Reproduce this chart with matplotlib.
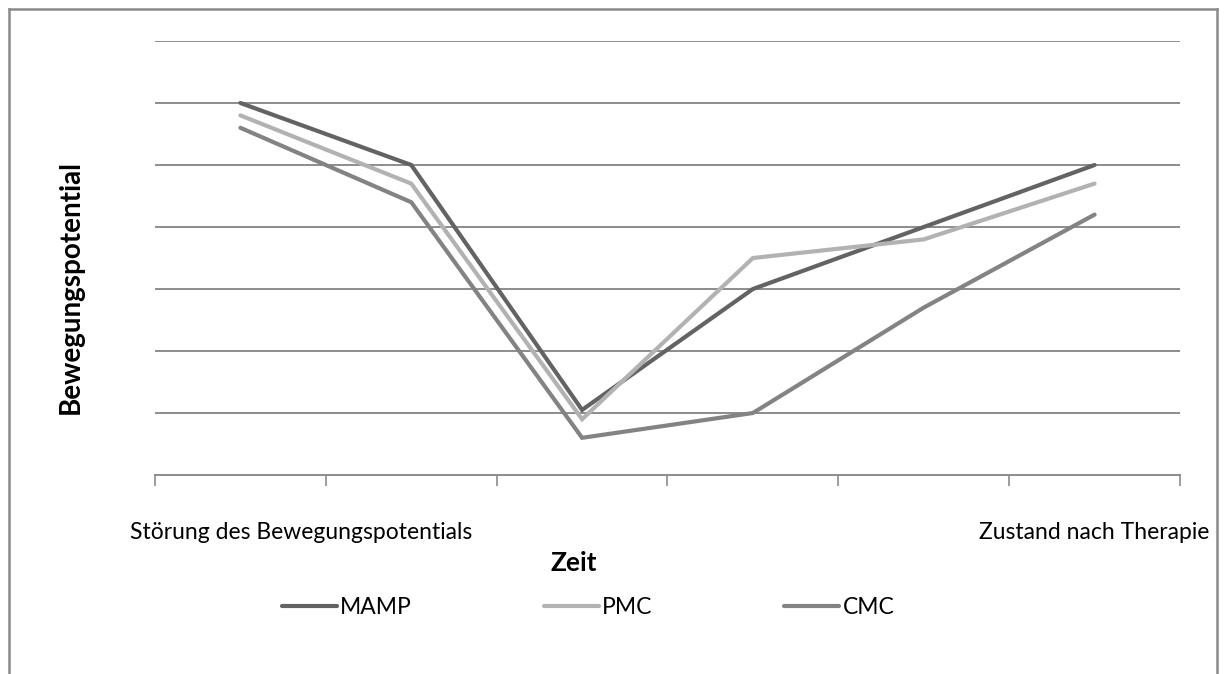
"""Line chart: Bewegungspotential over time for MAMP, PMC and CMC."""

import matplotlib

matplotlib.use("Agg")
import matplotlib.pyplot as plt  # noqa: E402
from matplotlib.lines import Line2D  # noqa: E402
from matplotlib.transforms import ScaledTranslation  # noqa: E402

plt.rcParams["font.family"] = ["Lato", "DejaVu Sans"]

# categories along the time axis; only first and last carry a label
categories = ["Störung des Bewegungspotentials", "", "", "", "", "Zustand nach Therapie"]

mamp = [6.0, 5.0, 1.05, 3.0, 4.0, 5.0]
pmc = [5.8, 4.7, 0.9, 3.5, 3.8, 4.7]
cmc = [5.6, 4.4, 0.6, 1.0, 2.7, 4.2]

series = [("MAMP", mamp, "#636363"), ("PMC", pmc, "#b2b2b2"), ("CMC", cmc, "#838383")]

W, H, DPI = 1227, 674, 100
fig = plt.figure(figsize=(W / DPI, H / DPI), dpi=DPI)

# plot area in pixel terms, converted to figure fractions
left, right, top, bottom = 155, 1180, 41, 475
ax = fig.add_axes([left / W, 1 - bottom / H, (right - left) / W, (bottom - top) / H])

x = list(range(len(categories)))
for name, vals, color in series:
    ax.plot(x, vals, color=color, lw=3.0, label=name, solid_capstyle="round",
            solid_joinstyle="miter", zorder=3)

ax.set_xlim(-0.5, len(categories) - 0.5)
ax.set_ylim(0, 7)
ax.set_yticks(range(1, 8))
ax.tick_params(axis="y", length=0, labelleft=False)
ax.grid(axis="y", color="#8c8c8c", lw=1.4, zorder=1)

ax.set_xticks(x)
ax.set_xticklabels(categories, fontsize=16.5, color="#000000")
ax.tick_params(axis="x", which="major", length=0, pad=34)
ax.set_xticks([i - 0.5 for i in range(len(categories) + 1)], minor=True)
ax.tick_params(axis="x", which="minor", length=8, width=1.2, color="#8c8c8c")

# the first label sits a little right of its category centre
first = ax.get_xticklabels()[0]
first.set_transform(first.get_transform() + ScaledTranslation(0.61, 0, fig.dpi_scale_trans))

for side in ("top", "right", "left"):
    ax.spines[side].set_visible(False)
ax.spines["bottom"].set_color("#8c8c8c")
ax.spines["bottom"].set_linewidth(1.4)

fig.text(574 / W, 1 - 563 / H, "Zeit", fontsize=19, fontweight="bold",
         ha="center", va="center")
fig.text(71 / W, 1 - 287 / H, "Bewegungspotential", fontsize=20,
         fontweight="bold", rotation=90, ha="center", va="center")

fig.legend(loc="center", bbox_to_anchor=(588 / W, 1 - 608 / H), ncol=3,
           frameon=False, fontsize=16.5, handlelength=2.4, handletextpad=0.15,
           columnspacing=5.75)

# chart border (bottom edge lies below the canvas)
frame_color = "#8a8a8a"
fx0, fx1, fy0 = 9 / W, 1217 / W, 1 - 9 / H
fig.add_artist(Line2D([fx0, fx0], [0, fy0], color=frame_color, lw=1.8))
fig.add_artist(Line2D([fx0, fx1], [fy0, fy0], color=frame_color, lw=1.8))
fig.add_artist(Line2D([fx1, fx1], [0, fy0], color=frame_color, lw=1.8))

fig.savefig("out.png", dpi=DPI, facecolor="white")
